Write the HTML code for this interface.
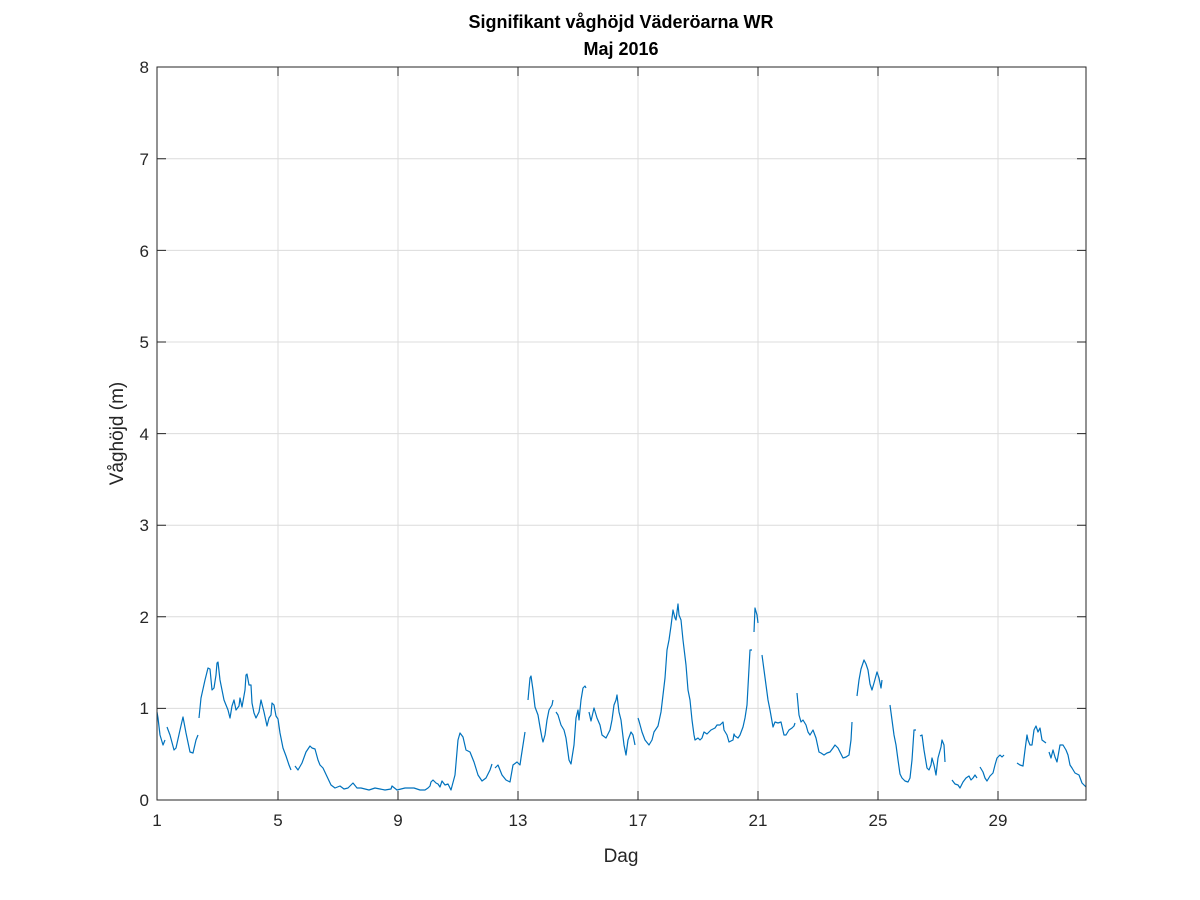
<!DOCTYPE html>
<html><head><meta charset="utf-8"><style>body{margin:0;background:#fff}svg{display:block}</style></head><body>
<svg width="1200" height="900" xmlns="http://www.w3.org/2000/svg" font-family="Liberation Sans, sans-serif">
<rect width="1200" height="900" fill="#fff"/>
<g stroke="#dcdcdc" stroke-width="1">
<line x1="278" y1="67" x2="278" y2="800"/><line x1="398" y1="67" x2="398" y2="800"/><line x1="518" y1="67" x2="518" y2="800"/><line x1="638" y1="67" x2="638" y2="800"/><line x1="758" y1="67" x2="758" y2="800"/><line x1="878" y1="67" x2="878" y2="800"/><line x1="998" y1="67" x2="998" y2="800"/>
<line x1="157" y1="708.4" x2="1086" y2="708.4"/><line x1="157" y1="616.8" x2="1086" y2="616.8"/><line x1="157" y1="525.2" x2="1086" y2="525.2"/><line x1="157" y1="433.6" x2="1086" y2="433.6"/><line x1="157" y1="342" x2="1086" y2="342"/><line x1="157" y1="250.4" x2="1086" y2="250.4"/><line x1="157" y1="158.8" x2="1086" y2="158.8"/>
</g>
<g fill="none" stroke="#0072BD" stroke-width="1.2" stroke-linejoin="round">
<polyline points="157,712 158,718 160,735 163,745 165,740"/>
<polyline points="167,727 170,735 174,750 176,748 180,730 183,717 186,733 190,752 193,753 196,740 198,735"/>
<polyline points="199,718 201,698 205,680 208,668 210,669 212,690 214,688 216,675 217,663 218,662 220,680 222,690 224,700 226,705 228,710 230,718 232,706 234,700 236,710 239,706 240,698 242,707 245,690 246,675 247,674 249,685 251,685 252,703 254,713 256,718 259,712 261,700 264,712 267,726 269,718 271,715 272,703 274,705 276,716 278,719 280,733 283,748 286,756 289,765 291,770"/>
<polyline points="295,766 298,770 302,763 306,752 310,746 312,748 315,749 318,760 320,765 323,768 331,785 335,788 340,786 344,789 348,788 353,783 357,788 361,788 365,789 369,790 375,788 380,789 385,790 391,789 392,786 397,790 405,788 414,788 420,790 425,790 428,788 430,786 431,782 433,780 436,783 438,784 440,787 442,781 445,785 448,784 451,790 455,775 458,740 460,733 463,737 466,750 470,752 474,762 478,775 482,781 486,778 490,770 492,764"/>
<polyline points="495,768 498,765 502,775 506,780 510,782 513,765 517,762 520,765 521,758 523,745 525,732"/>
<polyline points="528,700 530,678 531,676 533,690 535,707 538,715 540,727 542,738 543,742 545,735 547,720 549,710 552,705 553,700"/>
<polyline points="556,712 558,715 561,725 564,730 566,738 569,760 571,764 574,745 576,718 578,710 579,720 581,700 583,688 585,686 586,688"/>
<polyline points="589,712 591,721 594,708 597,718 600,725 602,735 606,738 610,730 612,720 614,705 616,700 617,695 619,712 621,720 624,745 626,755 628,740 631,732 633,735 634,740 635,745"/>
<polyline points="638,718 639,721 642,732 645,740 649,745 652,740 654,732 658,726 661,712 665,678 667,650 669,640 671,626 673,610 675,618 676,620 678,604 679,615 681,620 683,640 686,665 688,690 690,700 692,720 694,735 695,740 698,738 700,740 702,738 704,732 707,734 711,730 715,728 717,725 720,725 723,722 724,730 727,735 729,742 733,740 734,734 735,736 738,738 740,735 743,727 745,718 747,705 750,650 752,650"/>
<polyline points="754,632 755,608 757,615 758,623"/>
<polyline points="762,655 764,670 766,685 768,700 770,710 773,727 775,722 778,723 781,722 784,735 786,735 789,730 792,728 794,726 795,723"/>
<polyline points="797,693 799,715 801,722 803,720 806,725 808,732 810,735 813,730 816,738 819,752 821,753 824,755 827,753 830,752 833,748 835,745 838,748 840,752 843,758 846,757 849,755 851,740 852,722"/>
<polyline points="857,696 859,680 861,669 864,660 866,664 868,670 870,684 872,690 874,683 877,672 879,678 881,688 882,680"/>
<polyline points="890,705 892,720 894,735 896,745 898,760 900,774 902,778 905,781 908,782 910,778 912,760 914,730 916,730"/>
<polyline points="920,736 922,735 924,750 927,768 929,770 931,765 932,758 934,765 936,775 938,758 941,747 942,740 944,745 945,762"/>
<polyline points="952,780 955,784 958,785 960,788 963,782 966,778 969,776 971,780 973,778 975,775 977,778"/>
<polyline points="980,767 983,772 985,778 987,781 990,776 993,773 995,765 997,758 1000,755 1002,757 1004,755"/>
<polyline points="1017,763 1020,765 1023,766 1025,750 1027,735 1028,740 1030,745 1032,745 1034,730 1036,726 1038,732 1040,728 1042,740 1046,743"/>
<polyline points="1049,752 1051,758 1053,750 1055,757 1057,762 1060,745 1063,745 1066,750 1068,755 1070,765 1072,768 1075,773 1079,775 1082,783 1084,785 1086,787"/>
</g>
<rect x="157" y="67" width="929" height="733" fill="none" stroke="#262626" stroke-width="1"/>
<g stroke="#262626" stroke-width="1">
<path d="M278,800v-9M398,800v-9M518,800v-9M638,800v-9M758,800v-9M878,800v-9M998,800v-9"/>
<path d="M278,67v9M398,67v9M518,67v9M638,67v9M758,67v9M878,67v9M998,67v9"/>
<path d="M157,708.4h9M157,616.8h9M157,525.2h9M157,433.6h9M157,342h9M157,250.4h9M157,158.8h9"/>
<path d="M1086,708.4h-9M1086,616.8h-9M1086,525.2h-9M1086,433.6h-9M1086,342h-9M1086,250.4h-9M1086,158.8h-9"/>
</g>
<g fill="#262626" font-size="17" text-anchor="middle">
<text x="157" y="826">1</text><text x="278" y="826">5</text><text x="398" y="826">9</text><text x="518" y="826">13</text><text x="638" y="826">17</text><text x="758" y="826">21</text><text x="878" y="826">25</text><text x="998" y="826">29</text>
</g>
<g fill="#262626" font-size="17" text-anchor="end">
<text x="149" y="806">0</text><text x="149" y="714">1</text><text x="149" y="623">2</text><text x="149" y="531">3</text><text x="149" y="440">4</text><text x="149" y="348">5</text><text x="149" y="257">6</text><text x="149" y="165">7</text><text x="149" y="73">8</text>
</g>
<text x="621" y="862" font-size="19" text-anchor="middle" fill="#262626">Dag</text>
<text transform="translate(123,433.5) rotate(-90)" font-size="19" text-anchor="middle" fill="#262626">Våghöjd (m)</text>
<text x="621" y="28" font-size="18" font-weight="bold" text-anchor="middle" fill="#000">Signifikant våghöjd Väderöarna WR</text>
<text x="621" y="55" font-size="18" font-weight="bold" text-anchor="middle" fill="#000">Maj 2016</text>
</svg>
</body></html>
